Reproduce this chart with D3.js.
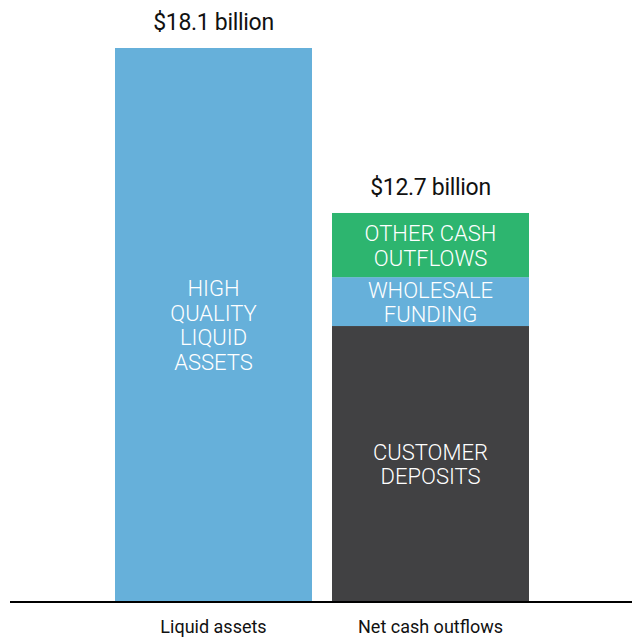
<!DOCTYPE html>
<html>
<head>
<meta charset="utf-8">
<script src="https://cdn.jsdelivr.net/npm/d3@7"></script>
<style>
  html, body { margin: 0; padding: 0; background: #fff; }
  svg { display: block; font-family: Roboto, Inter, "Liberation Sans", sans-serif; }
</style>
</head>
<body>
<svg id="chart" width="632" height="639"></svg>
<script>
// Categories along the x axis and their headline totals
const categories = ["Liquid assets", "Net cash outflows"];
const totals = [18.1, 12.7];
const totalLabels = ["$18.1 billion", "$12.7 billion"];

// Stacked components (bottom to top) for each category, in $ billions
const liquidSegments = [
  { name: ["HIGH", "QUALITY", "LIQUID", "ASSETS"], value: 18.1, color: "#66b0da" }
];
const outflowSegments = [
  { name: ["CUSTOMER", "DEPOSITS"], value: 9.0, color: "#414143" },
  { name: ["WHOLESALE", "FUNDING"], value: 1.6, color: "#66b0da" },
  { name: ["OTHER CASH", "OUTFLOWS"], value: 2.1, color: "#2db56f" }
];
const segmentsByCategory = [liquidSegments, outflowSegments];

const svg = d3.select("#chart");
const baseY = 601;

const x = d3.scaleBand()
  .domain(categories)
  .range([105, 539])
  .paddingInner(0.0922)
  .paddingOuter(0.0461);

const y = d3.scaleLinear()
  .domain([0, 18.1])
  .range([baseY, 48]);

// Build stacked rectangles
const stacked = [];
categories.forEach((cat, i) => {
  let acc = 0;
  segmentsByCategory[i].forEach(seg => {
    stacked.push({ cat, y0: acc, y1: acc + seg.value, ...seg });
    acc += seg.value;
  });
});

svg.append("g")
  .selectAll("rect")
  .data(stacked)
  .join("rect")
  .attr("x", d => x(d.cat))
  .attr("width", x.bandwidth())
  .attr("y", d => y(d.y1))
  .attr("height", d => y(d.y0) - y(d.y1))
  .attr("fill", d => d.color);

// Segment labels, centred in each block, one text per line
const lineH = 24.5;
const segLines = [];
stacked.forEach(d => {
  const n = d.name.length;
  const cy = (y(d.y0) + y(d.y1)) / 2;
  d.name.forEach((t, j) => {
    segLines.push({ text: t, cx: x(d.cat) + x.bandwidth() / 2, cy: cy + (j - (n - 1) / 2) * lineH });
  });
});

svg.append("g")
  .selectAll("text")
  .data(segLines)
  .join("text")
  .attr("text-anchor", "middle")
  .attr("dominant-baseline", "central")
  .attr("fill", "#ffffff")
  .attr("font-size", 22)
  .attr("font-weight", 300)
  .attr("x", d => d.cx)
  .attr("y", d => d.cy + 1)
  .text(d => d.text);

// Totals above each bar
svg.append("g")
  .selectAll("text")
  .data(categories)
  .join("text")
  .attr("text-anchor", "middle")
  .attr("fill", "#111")
  .attr("font-size", 23)
  .attr("letter-spacing", "-0.3")
  .attr("x", d => x(d) + x.bandwidth() / 2)
  .attr("y", (d, i) => y(totals[i]) - 18)
  .text((d, i) => totalLabels[i]);

// Baseline axis
const xAxis = d3.axisBottom(x).tickSize(0).tickPadding(17);
const axisG = svg.append("g")
  .attr("transform", `translate(0,${baseY + 2})`)
  .call(xAxis);
axisG.select(".domain").remove();
axisG.selectAll("text")
  .attr("font-size", 18)
  .attr("font-family", "Roboto, Inter, 'Liberation Sans', sans-serif")
  .attr("fill", "#111");

svg.append("line")
  .attr("x1", 10).attr("x2", 632)
  .attr("y1", baseY + 1).attr("y2", baseY + 1)
  .attr("stroke", "#000")
  .attr("stroke-width", 2);
</script>
</body>
</html>
